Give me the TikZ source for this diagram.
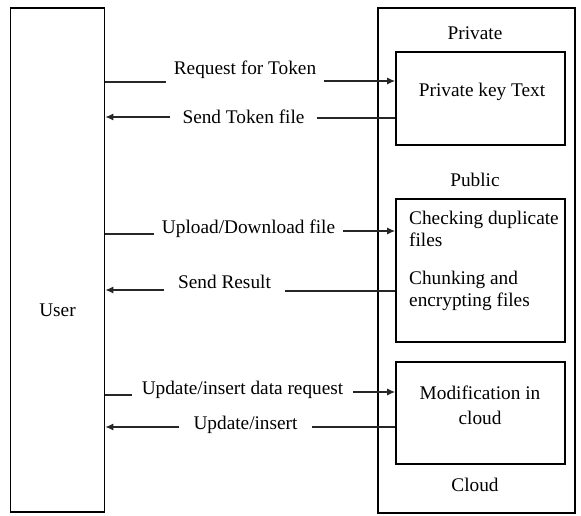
\documentclass[tikz,border=0pt]{standalone}
\usepackage{fontspec}
\setmainfont{Liberation Serif}
\usetikzlibrary{arrows.meta}
\begin{document}
\begin{tikzpicture}[x=1pt,y=-1pt,
  box/.style={draw=black,line width=1.8pt,inner sep=0pt},
  txt/.style={inner sep=0pt,font=\rmfamily\fontsize{19.3}{22}\selectfont},
  conn/.style={draw=black!85,line width=1.1pt},
  arr/.style={conn,-{Latex[length=8pt,width=7pt]}}]
\useasboundingbox (0,0) rectangle (581,515);
% main boxes
\node[box,minimum width=94pt,minimum height=504pt] (user) at (57.5,260) {};
\node[txt] (userlbl) at (57.5,310) {User};
\node[box,minimum width=197pt,minimum height=505pt] (cloud) at (476.5,260.5) {};
\node[txt] (privlbl) at (475,33) {Private};
\node[txt] (publbl) at (475,180) {Public};
\node[txt] (cloudlbl) at (475,485) {Cloud};
% inner boxes
\node[box,minimum width=169pt,minimum height=93pt] (pk) at (480.5,98.5) {};
\node[txt] (pktxt) at (482,92) {Private key Text};
\node[box,minimum width=169pt,minimum height=143pt] (pub) at (480.5,270.5) {};
\node[txt,anchor=west,align=left] (chk) at (409,229) {Checking duplicate\\files};
\node[txt,anchor=west,align=left] (chn) at (409,291) {Chunking and\\encrypting files};
\node[box,minimum width=169pt,minimum height=102pt] (mod) at (480.5,413) {};
\node[txt,align=center] (modtxt) at (480,405) {Modification in\\[3pt]cloud};
% message labels
\node[txt,inner xsep=8pt] (l1) at (245,70) {Request for Token};
\node[txt,inner xsep=12pt] (l2) at (243.5,117) {Send Token file};
\node[txt,inner xsep=8pt] (l3) at (248.5,229) {Upload/Download file};
\node[txt,inner xsep=14pt] (l4) at (224.5,282) {Send Result};
\node[txt,inner xsep=10pt] (l5) at (242.5,390) {Update/insert data request};
\node[txt,inner xsep=14pt] (l6) at (245.5,425) {Update/insert};
% connectors
\draw[conn] (user.east |- 0,82) -- (l1.west |- 0,82);
\draw[arr] (l1.east |- 0,81) -- (pk.west |- 0,81);
\draw[conn] (pk.west |- 0,118) -- (l2.east |- 0,118);
\draw[arr] (l2.west |- 0,117) -- (user.east |- 0,117);
\draw[conn] (user.east |- 0,234) -- (l3.west |- 0,234);
\draw[arr] (l3.east |- 0,231) -- (pub.west |- 0,231);
\draw[conn] (pub.west |- 0,291) -- (l4.east |- 0,291);
\draw[arr] (l4.west |- 0,290) -- (user.east |- 0,290);
\draw[conn] (user.east |- 0,395) -- (l5.west |- 0,395);
\draw[arr] (l5.east |- 0,392) -- (mod.west |- 0,392);
\draw[conn] (mod.west |- 0,427) -- (l6.east |- 0,427);
\draw[arr] (l6.west |- 0,427) -- (user.east |- 0,427);
\end{tikzpicture}
\end{document}
